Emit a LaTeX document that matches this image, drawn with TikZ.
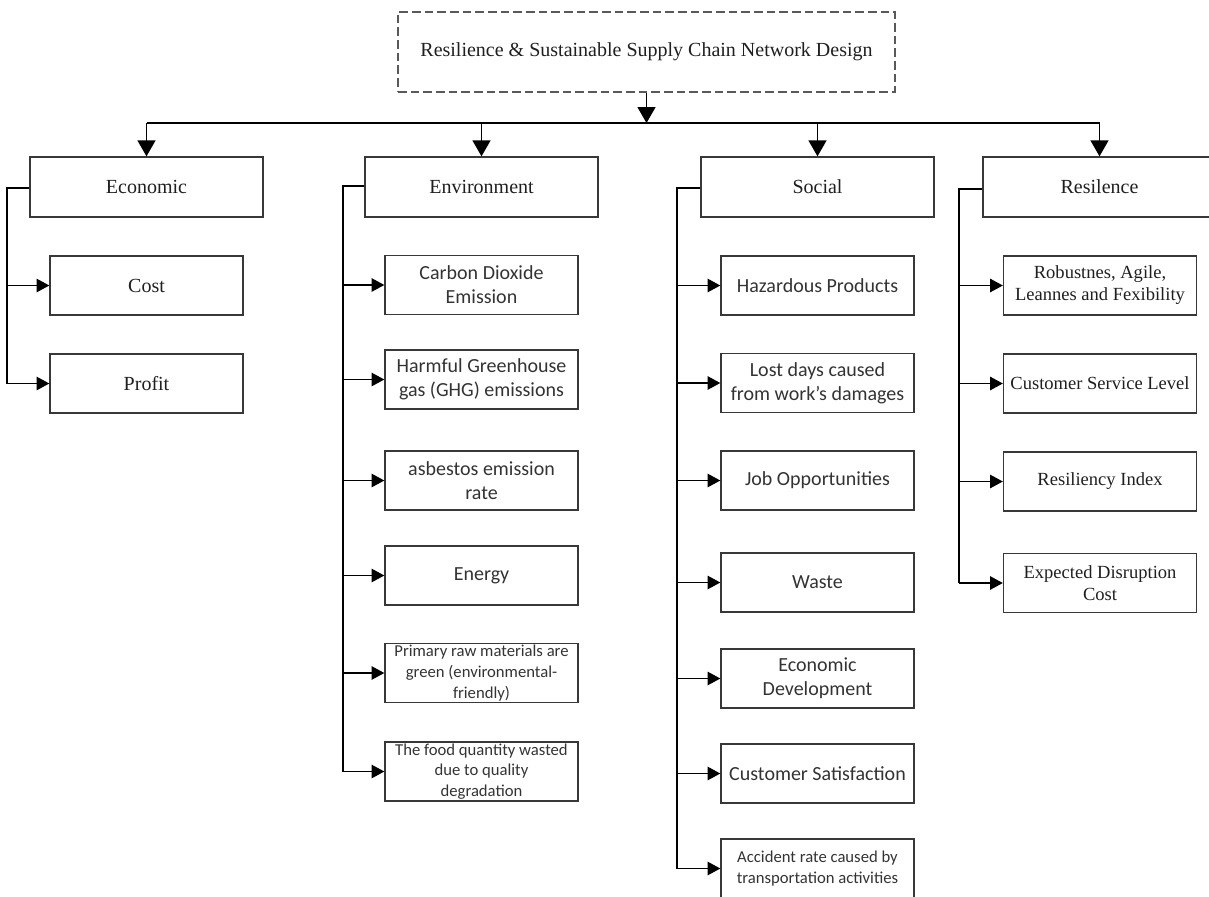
\documentclass[tikz,border=0pt]{standalone}
\usepackage{fontspec}
\setmainfont{Liberation Serif}
\newfontfamily\calfont{Carlito}
\usetikzlibrary{arrows.meta}

\begin{document}
\begin{tikzpicture}[x=0.75pt,y=-0.75pt,
  box/.style={draw=black!78, line width=1pt, rectangle, inner sep=0pt,
    align=center, text=black!88},
  titlebox/.style={box, draw=black!65, dash pattern=on 6.5pt off 3pt,
    minimum width=372.75pt, minimum height=60pt,
    font=\fontsize{15}{18}\selectfont},
  catbox/.style={box, minimum width=174.75pt, minimum height=45pt,
    font=\fontsize{15}{18}\selectfont},
  leaf/.style={box, minimum width=144.75pt, minimum height=44.25pt},
  serifleaf/.style={leaf, font=\fontsize{15}{18}\selectfont},
  resleaf/.style={leaf, font=\fontsize{13.9}{16.5}\selectfont},
  calleaf/.style={leaf, text=black!80, font=\calfont\fontsize{15}{18}\selectfont},
  calsmall/.style={leaf, text=black!80, font=\calfont\fontsize{12.5}{15.5}\selectfont},
  link/.style={draw=black, line width=1.1pt},
  arr/.style={link, -{Triangle[length=9.5pt,width=10pt]}},
  bigarr/.style={link, -{Triangle[length=12pt,width=13.5pt]}}
]
\useasboundingbox (0,0) rectangle (1209,896);
\clip (0,0) rectangle (1209,896);

% title and main bus
\node[titlebox] (title) at (646.5,52) {Resilience \& Sustainable Supply Chain Network Design};
\coordinate (busy) at (0,123);

% categories
\node[catbox] (econ) at (146.5,187) {Economic};
\node[catbox] (env)  at (481.5,187) {Environment};
\node[catbox] (soc)  at (817.5,187) {Social};
\node[catbox] (res)  at (1099.5,187) {Resilence};

\draw[bigarr] (title.south) -- (title.south |- busy);
\draw[link] (econ.north |- busy) -- (res.north |- busy);
\foreach \c in {econ,env,soc,res}
  \draw[bigarr] (\c.north |- busy) -- (\c.north);

% economic branch
\node[serifleaf] (cost)   at (146.5,285.5) {Cost};
\node[serifleaf] (profit) at (146.5,383.5) {Profit};

% environment branch
\node[calleaf]  (co2)  at (481.5,285)   {Carbon Dioxide\\Emission};
\node[calleaf]  (ghg)  at (481.5,379.5) {Harmful Greenhouse\\gas (GHG) emissions};
\node[calleaf]  (asb)  at (481.5,480.5) {asbestos emission\\rate};
\node[calleaf]  (nrg)  at (481.5,575.5) {Energy};
\node[calsmall] (raw)  at (481.5,673)   {Primary raw materials are\\green (environmental-\\friendly)};
\node[calsmall] (food) at (481.5,771.5) {The food quantity wasted\\due to quality\\degradation};

% social branch
\node[calleaf]  (haz)  at (817.5,285.5) {Hazardous Products};
\node[calleaf]  (lost) at (817.5,383)   {Lost days caused\\from work’s damages};
\node[calleaf]  (job)  at (817.5,480.5) {Job Opportunities};
\node[calleaf]  (wst)  at (817.5,582.5) {Waste};
\node[calleaf]  (dev)  at (817.5,678.5) {Economic\\Development};
\node[calleaf]  (csat) at (817.5,773.5) {Customer Satisfaction};
\node[calsmall] (acc)  at (817.5,868.5) {Accident rate caused by\\transportation activities};

% resilience branch
\node[resleaf] (rob)  at (1100,285.5) {Robustnes, Agile,\\Leannes and Fexibility};
\node[resleaf] (csl)  at (1100,383.5) {Customer Service Level};
\node[resleaf] (rix)  at (1100,481.5) {Resiliency Index};
\node[resleaf] (edc)  at (1100,583)   {Expected Disruption\\Cost};

% trunk points left of each category
\coordinate (econ-t) at (7,188);
\coordinate (env-t)  at (343,186);
\coordinate (soc-t)  at (677,188);
\coordinate (res-t)  at (959,189);

% trunks: from the category box down to the last item
\draw[link] (econ-t -| econ.west) -- (econ-t) -- (econ-t |- profit.west);
\draw[link] (env-t -| env.west) -- (env-t) -- (env-t |- food.west);
\draw[link] (soc-t -| soc.west) -- (soc-t) -- (soc-t |- acc.west);
\draw[link] (res-t -| res.west) -- (res-t) -- (res-t |- edc.west);

% branches into each item
\foreach \k in {cost,profit}
  \draw[arr] (econ-t |- \k.west) -- (\k.west);
\foreach \k in {co2,ghg,asb,nrg,raw,food}
  \draw[arr] (env-t |- \k.west) -- (\k.west);
\foreach \k in {haz,lost,job,wst,dev,csat,acc}
  \draw[arr] (soc-t |- \k.west) -- (\k.west);
\foreach \k in {rob,csl,rix,edc}
  \draw[arr] (res-t |- \k.west) -- (\k.west);
\end{tikzpicture}
\end{document}
